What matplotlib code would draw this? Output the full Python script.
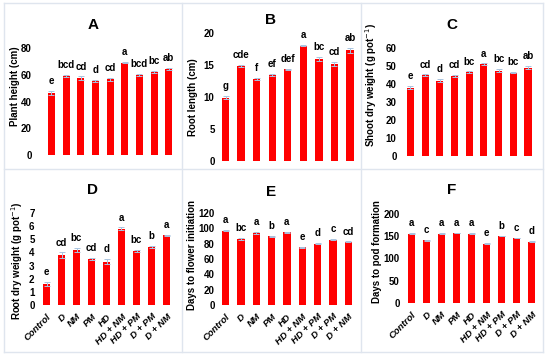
import matplotlib
matplotlib.use("Agg")
import matplotlib.pyplot as plt
from matplotlib.lines import Line2D
import numpy as np

plt.rcParams['font.family'] = ['Liberation Sans', 'DejaVu Sans']

# === Datos ===
tratamientos = ["Control", "D", "NM", "PM", "HD", "HD + NM", "HD + PM", "D + PM", "D + NM"]

altura = [46.5, 59.0, 57.5, 55.5, 56.5, 69.0, 59.5, 62.0, 64.5]
altura_err = [1.5, 1.0, 1.2, 0.8, 1.2, 0.5, 0.8, 1.0, 0.8]
altura_let = ["e", "bcd", "cd", "d", "cd", "a", "bcd", "bc", "ab"]

raiz = [9.9, 14.8, 12.8, 13.5, 14.3, 18.0, 16.0, 15.2, 17.3]
raiz_err = [0.25, 0.15, 0.15, 0.15, 0.1, 0.1, 0.3, 0.3, 0.35]
raiz_let = ["g", "cde", "f", "ef", "def", "a", "bc", "cd", "ab"]

brote_ps = [38.0, 44.8, 41.8, 44.5, 46.5, 51.0, 47.5, 46.3, 49.0]
brote_ps_err = [0.8, 0.5, 0.8, 0.5, 0.5, 0.4, 0.8, 0.3, 0.9]
brote_ps_let = ["e", "cd", "d", "cd", "bc", "a", "bc", "bc", "ab"]

raiz_ps = [1.6, 3.8, 4.2, 3.5, 3.3, 5.8, 4.1, 4.4, 5.3]
raiz_ps_err = [0.15, 0.2, 0.15, 0.1, 0.2, 0.1, 0.08, 0.08, 0.05]
raiz_ps_let = ["e", "cd", "bc", "cd", "d", "a", "bc", "b", "a"]

flor = [97.0, 86.0, 94.0, 89.5, 95.0, 75.0, 80.0, 85.0, 82.5]
flor_err = [0.8, 1.0, 0.8, 0.6, 0.8, 0.5, 0.5, 0.8, 0.4]
flor_let = ["a", "bc", "a", "b", "a", "e", "d", "c", "cd"]

vaina = [156.0, 141.0, 156.0, 157.0, 156.0, 133.0, 151.0, 146.0, 138.0]
vaina_err = [1.0, 1.0, 0.8, 0.8, 1.0, 1.2, 0.6, 0.6, 0.6]
vaina_let = ["a", "c", "a", "a", "a", "e", "b", "c", "d"]

W, H = 550, 359
fig = plt.figure(figsize=(5.5, 3.59), dpi=100)

def px_rect(x0, x1, y_top, y_bot):
    return [x0 / W, 1 - y_bot / H, (x1 - x0) / W, (y_bot - y_top) / H]

# (datos, error, letras, ylabel, titulo, ymax, yticks, rect, xlim, y titulo, x/y ylabel, etiquetas x)
paneles = [
    (altura, altura_err, altura_let, "Plant height (cm)", "A", 80, np.arange(0, 81, 20),
     px_rect(33, 179, 48, 155), (-1.26, 8.7), 25, 15, 86, False),
    (raiz, raiz_err, raiz_let, "Root length (cm)", "B", 20, np.arange(0, 21, 5),
     px_rect(216, 360, 33, 161), (-0.62, 8.65), 20, 193, 97, False),
    (brote_ps, brote_ps_err, brote_ps_let, "Shoot dry weight (g pot$^{-1}$)", "C", 60, np.arange(0, 61, 10),
     px_rect(398, 539, 48, 156), (-0.85, 8.75), 25, 371, 85, False),
    (raiz_ps, raiz_ps_err, raiz_ps_let, "Root dry weight (g pot$^{-1}$)", "D", 7, np.arange(0, 8, 1),
     px_rect(36, 177, 213, 305), (-0.7, 8.7), 190, 17, 261, True),
    (flor, flor_err, flor_let, "Days to flower initiation", "E", 120, np.arange(0, 121, 20),
     px_rect(216, 359, 213, 305), (-0.62, 8.7), 192, 192, 255, True),
    (vaina, vaina_err, vaina_let, "Days to pod formation", "F", 200, np.arange(0, 201, 50),
     px_rect(401, 542, 214, 303), (-0.7, 8.7), 190, 377, 252, True),
]

x = np.arange(len(tratamientos))
centros = [93, 271, 452]

for i, (vals, errs, lets, ylab, tit, ymax, yt, rect, xl, ty, lx, ly, etq) in enumerate(paneles):
    ax = fig.add_axes(rect)
    ax.bar(x, vals, width=0.48, color="#ff0000", zorder=2)
    ax.errorbar(x, vals, yerr=errs, fmt="none", ecolor="#a9c4e0", elinewidth=0.7,
                capsize=2, capthick=0.7, zorder=3)
    for xi, v, e, l in zip(x, vals, errs, lets):
        ax.annotate(l, (xi, v + e), xytext=(0, 3.5), textcoords="offset points",
                    ha="center", va="bottom", fontsize=7, fontweight="bold")
    ax.set_ylim(0, ymax)
    ax.set_yticks(yt)
    ax.set_xlim(*xl)
    for s in ax.spines.values():
        s.set_visible(False)
    ax.tick_params(length=0, labelsize=7, pad=1)
    for t in ax.get_yticklabels():
        t.set_fontweight("bold")
    ax.set_xticks(x)
    if etq:
        ax.set_xticklabels(tratamientos, rotation=45, ha="right", rotation_mode="anchor",
                           fontsize=6.8, fontweight="bold", fontstyle="italic")
        ax.tick_params(axis="x", pad=5)
    else:
        ax.set_xticklabels([])
    ax.patch.set_alpha(0)
    fig.text(centros[i % 3] / W, 1 - ty / H, tit, ha="center", va="center",
             fontsize=11, fontweight="bold")
    fig.text(lx / W, 1 - ly / H, ylab, rotation=90, ha="center", va="center",
             fontsize=7, fontweight="bold")

# === Bordes de los paneles ===
borde = "#dfe5ee"
xs = [4, 182, 361, 543]
ys = [3, 169, 352]
for xv in xs:
    fig.add_artist(Line2D([xv / W, xv / W], [1 - ys[0] / H, 1 - ys[-1] / H], color=borde, lw=1))
for yv in ys:
    fig.add_artist(Line2D([xs[0] / W, xs[-1] / W], [1 - yv / H, 1 - yv / H], color=borde, lw=1))

fig.savefig("out.png", dpi=100)
